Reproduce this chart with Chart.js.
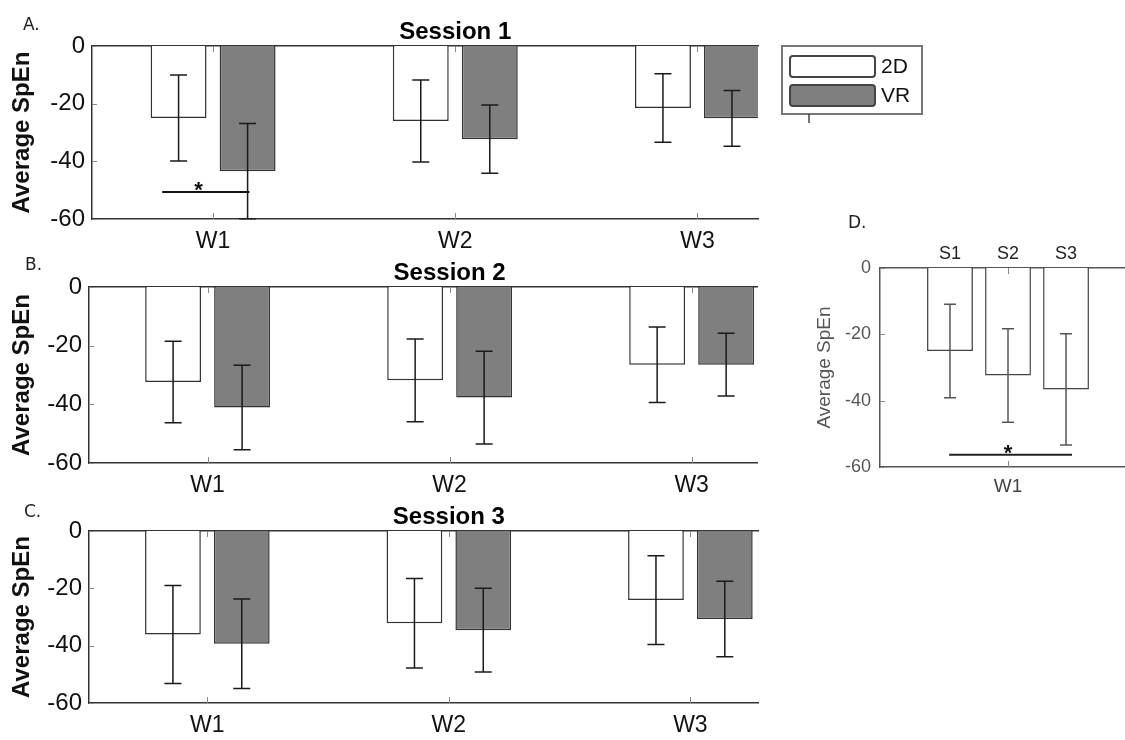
<!DOCTYPE html>
<html>
<head>
<meta charset="utf-8">
<title>Average SpEn by session</title>
<script src="https://cdn.jsdelivr.net/npm/chart.js@4.4.1/dist/chart.umd.min.js"></script>
<style>
  body { margin: 0; background: #fff; overflow: hidden; }
  #fig { position: relative; width: 1125px; height: 740px; overflow: hidden; background: #fff; }
  canvas { position: absolute; }
</style>
</head>
<body>
<div id="fig">
  <canvas id="panelA" width="930" height="250" style="left:0;top:0"></canvas>
  <canvas id="panelB" width="900" height="245" style="left:0;top:250px"></canvas>
  <canvas id="panelC" width="900" height="245" style="left:0;top:495px"></canvas>
  <canvas id="panelD" width="360" height="300" style="left:780px;top:200px"></canvas>
</div>
<script>
// categories
const weeks = ['W1', 'W2', 'W3'];
const groups = ['2D', 'VR'];
const sessions = ['S1', 'S2', 'S3'];
const yTicks = [0, -20, -40, -60];

// Session 1 (means and error half-lengths)
const s1_2D = [-25.0, -26.0, -21.5];
const s1_2D_err = [14.9, 14.2, 11.9];
const s1_VR = [-43.4, -32.3, -25.1];
const s1_VR_err = [16.5, 11.8, 9.7];

// Session 2
const s2_2D = [-32.4, -31.8, -26.5];
const s2_2D_err = [13.9, 14.1, 12.9];
const s2_VR = [-41.1, -37.7, -26.5];
const s2_VR_err = [14.4, 15.8, 10.7];

// Session 3
const s3_2D = [-36.1, -32.2, -24.1];
const s3_2D_err = [17.1, 15.6, 15.5];
const s3_VR = [-39.3, -34.6, -30.7];
const s3_VR_err = [15.6, 14.6, 13.2];

// panel D: W1, 2D, per session
const w1_2D = [-25.0, -32.4, -36.6];
const w1_2D_err = [14.1, 14.1, 16.8];

// significance bars (x in category units, y in SpEn)
const sigA = { x: [0.79, 1.15], y: -50.6, star: 0.94 };
const sigD = { x: [0.77, 1.25], y: -56.3, star: 1.0 };

const F = '"Liberation Sans", Arial, sans-serif';

function pts(vals, start) {
    return vals.map((v, i) => ({ x: start + i, y: v }));
}

// error bars on top of the bars
const errorBars = {
    id: 'errorBars',
    afterDatasetsDraw(chart, args, o) {
        const ctx = chart.ctx;
        const ys = chart.scales.y;
        chart.data.datasets.forEach((ds, di) => {
            if (!ds.errors) return;
            const meta = chart.getDatasetMeta(di);
            meta.data.forEach((bar, i) => {
                const v = ds.data[i].y, e = ds.errors[i];
                const top = ys.getPixelForValue(v + e);
                const bot = ys.getPixelForValue(v - e);
                ctx.save();
                ctx.strokeStyle = o.color;
                ctx.lineWidth = o.width;
                ctx.beginPath();
                ctx.moveTo(bar.x, top); ctx.lineTo(bar.x, bot);
                ctx.moveTo(bar.x - o.cap, top); ctx.lineTo(bar.x + o.cap, top);
                ctx.moveTo(bar.x - o.cap, bot); ctx.lineTo(bar.x + o.cap, bot);
                ctx.stroke();
                ctx.restore();
            });
        });
    }
};

// panel letter, title, inner ticks, star, bar labels, legend
const decor = {
    id: 'decor',
    afterDraw(chart, args, o) {
        const ctx = chart.ctx, a = chart.chartArea;
        const xs = chart.scales.x, ys = chart.scales.y;
        ctx.save();

        ctx.strokeStyle = '#888';
        ctx.lineWidth = 1;
        ctx.beginPath();
        xs.ticks.forEach(t => {
            const px = Math.round(xs.getPixelForValue(t.value)) + 0.5;
            ctx.moveTo(px, a.bottom); ctx.lineTo(px, a.bottom - 6);
            ctx.moveTo(px, a.top); ctx.lineTo(px, a.top + 6);
        });
        ys.ticks.forEach(t => {
            const py = Math.round(ys.getPixelForValue(t.value)) + 0.5;
            ctx.moveTo(a.left, py); ctx.lineTo(a.left + 5, py);
        });
        ctx.stroke();

        ctx.fillStyle = '#222';
        ctx.textBaseline = 'alphabetic';
        ctx.textAlign = 'left';
        ctx.font = '17px "DejaVu Sans", sans-serif';
        ctx.fillText(o.letter, o.letterX, o.letterY);

        if (o.title) {
            ctx.fillStyle = '#000';
            ctx.textAlign = 'center';
            ctx.font = 'bold 24px ' + F;
            ctx.fillText(o.title, xs.getPixelForValue(o.titleAt), a.top - 7);
        }

        if (o.sig) {
            ctx.fillStyle = '#111';
            ctx.textAlign = 'center';
            ctx.font = 'bold 22px ' + F;
            ctx.fillText('*', xs.getPixelForValue(o.sig.star), ys.getPixelForValue(o.sig.y) + 5);
        }

        if (o.barLabels) {
            ctx.fillStyle = '#222';
            ctx.textAlign = 'center';
            ctx.font = '18px ' + F;
            chart.data.datasets.forEach((ds, di) => {
                if (ds.type === 'line') return;
                const el = chart.getDatasetMeta(di).data[0];
                ctx.fillText(ds.label, el.x, a.top - 9);
            });
        }

        if (o.legend) {
            const L = o.legend;
            ctx.strokeStyle = '#777';
            ctx.lineWidth = 2;
            ctx.strokeRect(L.x, L.y, L.w, L.h);
            const bars = chart.data.datasets.filter(ds => ds.type !== 'line');
            bars.forEach((ds, i) => {
                const sy = L.y + 10 + i * 29;
                ctx.beginPath();
                ctx.roundRect(L.x + 8, sy, 85, 21, 3);
                ctx.fillStyle = ds.backgroundColor;
                ctx.fill();
                ctx.strokeStyle = '#444';
                ctx.lineWidth = 2;
                ctx.stroke();
                ctx.fillStyle = '#111';
                ctx.textAlign = 'left';
                ctx.textBaseline = 'middle';
                ctx.font = '21px ' + F;
                ctx.fillText(ds.label, L.x + 99, sy + 11);
            });
            ctx.strokeStyle = '#444';
            ctx.lineWidth = 1.5;
            ctx.beginPath();
            ctx.moveTo(L.x + 27, L.y + L.h); ctx.lineTo(L.x + 27, L.y + L.h + 9);
            ctx.stroke();
        }
        ctx.restore();
    }
};

function makeScales(W, H, area, xr, labels, look) {
    return {
        x: {
            type: 'linear', position: 'bottom', min: xr[0], max: xr[1], offset: false,
            afterBuildTicks: s => { s.ticks = labels.map((l, i) => ({ value: i + 1 })); },
            afterFit: s => { s.height = H - area.bottom; },
            ticks: { callback: v => labels[v - 1], font: { family: F, size: look.xSize }, color: look.xColor, padding: look.xPad, maxRotation: 0, autoSkip: false },
            grid: { display: false, drawTicks: false, offset: false },
            border: { color: look.axis, width: 1.5 }
        },
        xTop: {
            type: 'linear', position: 'top', min: xr[0], max: xr[1], offset: false,
            ticks: { display: false },
            grid: { display: false, drawTicks: false },
            border: { color: look.axis, width: 1.5 },
            afterFit: s => { s.height = 0; }
        },
        y: {
            min: -60, max: 0,
            afterBuildTicks: s => { s.ticks = yTicks.map(v => ({ value: v })); },
            afterFit: s => { s.width = area.left; },
            ticks: { font: { family: F, size: look.ySize }, color: look.yColor, padding: look.yPad },
            grid: { display: false, drawTicks: false },
            border: { color: look.axis, width: 1.5 },
            title: {
                display: true, text: 'Average SpEn', color: look.yColor,
                font: { family: F, size: look.titleSize, weight: look.titleWeight },
                padding: { top: look.titlePad, bottom: 0 }
            }
        }
    };
}

const lookABC = { xSize: 23, xColor: '#111', xPad: 9, ySize: 24, yColor: '#111', yPad: 7,
    titleSize: 24, titleWeight: 'bold', titlePad: 8, axis: '#333' };
const lookD = { xSize: 19, xColor: '#444', xPad: 8, ySize: 18, yColor: '#555', yPad: 9,
    titleSize: 19, titleWeight: 'normal', titlePad: 33, axis: '#555' };

function sessionPanel(id, title, letter, twoD, twoDErr, vr, vrErr, area, xr, extra) {
    const cv = document.getElementById(id);
    const W = cv.width, H = cv.height;
    const datasets = [
        { label: groups[0], data: pts(twoD, 1), errors: twoDErr, backgroundColor: '#ffffff', borderColor: '#333', borderWidth: 1.5, order: 1 },
        { label: groups[1], data: pts(vr, 1), errors: vrErr, backgroundColor: '#7f7f7f', borderColor: '#333', borderWidth: 1.5, order: 1 }
    ];
    if (extra.sig) {
        datasets.push({ type: 'line', label: 'sig', data: extra.sig.x.map(x => ({ x: x, y: extra.sig.y })),
            borderColor: '#111', borderWidth: 2, pointRadius: 0, order: 0 });
    }
    new Chart(cv, {
        type: 'bar',
        data: { datasets: datasets },
        options: {
            responsive: false,
            animation: false,
            categoryPercentage: 0.57,
            barPercentage: 0.81,
            layout: { padding: { left: 0, top: area.top, right: W - area.right, bottom: 0 } },
            scales: makeScales(W, H, area, xr, weeks, lookABC),
            plugins: {
                legend: { display: false },
                tooltip: { enabled: false },
                errorBars: { color: '#1a1a1a', width: 1.5, cap: 8.5 },
                decor: Object.assign({ title: title, titleAt: 2, letter: letter }, extra)
            }
        },
        plugins: [errorBars, decor]
    });
}

sessionPanel('panelA', 'Session 1', 'A.', s1_2D, s1_2D_err, s1_VR, s1_VR_err,
    { left: 92, top: 46, bottom: 219, right: 758 }, [0.5, 3.25],
    { letterX: 23, letterY: 30, sig: sigA, legend: { x: 782, y: 46, w: 140, h: 68 } });

sessionPanel('panelB', 'Session 2', 'B.', s2_2D, s2_2D_err, s2_VR, s2_VR_err,
    { left: 89, top: 37, bottom: 213, right: 757 }, [0.51, 3.27],
    { letterX: 25, letterY: 20 });

sessionPanel('panelC', 'Session 3', 'C.', s3_2D, s3_2D_err, s3_VR, s3_VR_err,
    { left: 89, top: 36, bottom: 208, right: 758 }, [0.51, 3.28],
    { letterX: 24, letterY: 22 });

// panel D: W1 2D across sessions
(function () {
    const cv = document.getElementById('panelD');
    const W = cv.width, H = cv.height;
    const area = { left: 100, top: 68, bottom: 267, right: 356 };
    const datasets = sessions.map((s, i) => ({
        label: s, data: [{ x: 1, y: w1_2D[i] }], errors: [w1_2D_err[i]],
        backgroundColor: '#ffffff', borderColor: '#444', borderWidth: 1.5, order: 1
    }));
    datasets.push({ type: 'line', label: 'sig', data: sigD.x.map(x => ({ x: x, y: sigD.y })),
        borderColor: '#222', borderWidth: 2, pointRadius: 0, order: 0 });
    new Chart(cv, {
        type: 'bar',
        data: { datasets: datasets },
        options: {
            responsive: false,
            animation: false,
            categoryPercentage: 0.68,
            barPercentage: 0.79,
            layout: { padding: { left: 0, top: area.top, right: W - area.right, bottom: 0 } },
            scales: makeScales(W, H, area, [0.5, 1.5], ['W1'], lookD),
            plugins: {
                legend: { display: false },
                tooltip: { enabled: false },
                errorBars: { color: '#555', width: 1.5, cap: 6 },
                decor: { letter: 'D.', letterX: 68, letterY: 28, sig: sigD, barLabels: true }
            }
        },
        plugins: [errorBars, decor]
    });
})();
</script>
</body>
</html>
